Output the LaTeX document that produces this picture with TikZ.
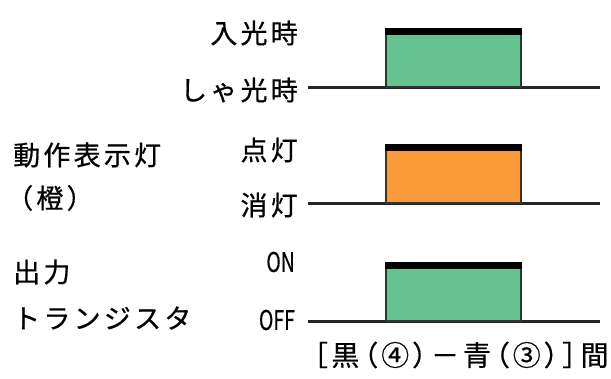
\documentclass[tikz,border=0pt]{standalone}
\usepackage{fontspec}
\setmainfont{Noto Sans CJK JP}[FakeBold=0.6]
\usetikzlibrary{positioning}

\begin{document}
\begin{tikzpicture}[
  x=1pt, y=1pt,
  lbl/.style={inner sep=0pt, anchor=east, font=\fontsize{27}{30}\selectfont\addfontfeature{LetterSpace=12}},
  side/.style={inner sep=0pt, anchor=west, font=\fontsize{27}{30}\selectfont\addfontfeature{LetterSpace=12}},
  level/.style={inner sep=0pt, anchor=east, xscale=0.72, font=\fontsize{27}{30}\selectfont},
  sig/.style={line width=3pt, draw=black!85},
  pulse/.style={draw=black!80, line width=1.6pt, minimum width=135pt, minimum height=58pt, anchor=south west, inner sep=0pt}
]
\useasboundingbox (0,0) rectangle (611,379);
\definecolor{pgreen}{HTML}{66C28F}
\definecolor{porange}{HTML}{FA9A3A}

% Light-receiving row
\node[lbl] (hi1) at (298,346) {入光時};
\node[lbl] (lo1) at (298,289) {しゃ光時};
\coordinate (s1) at (308,291);
\coordinate (e1) at (600,291);
\draw[sig] (s1) -- (e1);
\node[pulse, fill=pgreen] (p1) at (385,291) {};
\fill (p1.north west) rectangle ([yshift=-7pt]p1.north east);

% Indicator row
\node[side] (ind) at (13,224) {動作表示灯};
\node[side] (col) at (6,181) {（橙）};
\node[lbl] (hi2) at (298,229) {点灯};
\node[lbl] (lo2) at (298,174) {消灯};
\coordinate (s2) at (308,175);
\coordinate (e2) at (600,175);
\draw[sig] (s2) -- (e2);
\node[pulse, fill=porange] (p2) at (385,175) {};
\fill (p2.north west) rectangle ([yshift=-7pt]p2.north east);

% Output transistor row
\node[side] (out) at (13,107) {出力};
\node[side] (tr) at (13,61) {トランジスタ};
\node[level] (hi3) at (295,117) {ON};
\node[level] (lo3) at (295,59) {OFF};
\coordinate (s3) at (308,57);
\coordinate (e3) at (600,57);
\draw[sig] (s3) -- (e3);
\node[pulse, fill=pgreen] (p3) at (385,57) {};
\fill (p3.north west) rectangle ([yshift=-7pt]p3.north east);

\node[inner sep=0pt, font=\fontsize{28}{30}\selectfont\addfontfeature{RawFeature=+palt,LetterSpace=14}] (wire) at (461,24) {［黒（④）－青（③）］間};
\end{tikzpicture}
\end{document}
